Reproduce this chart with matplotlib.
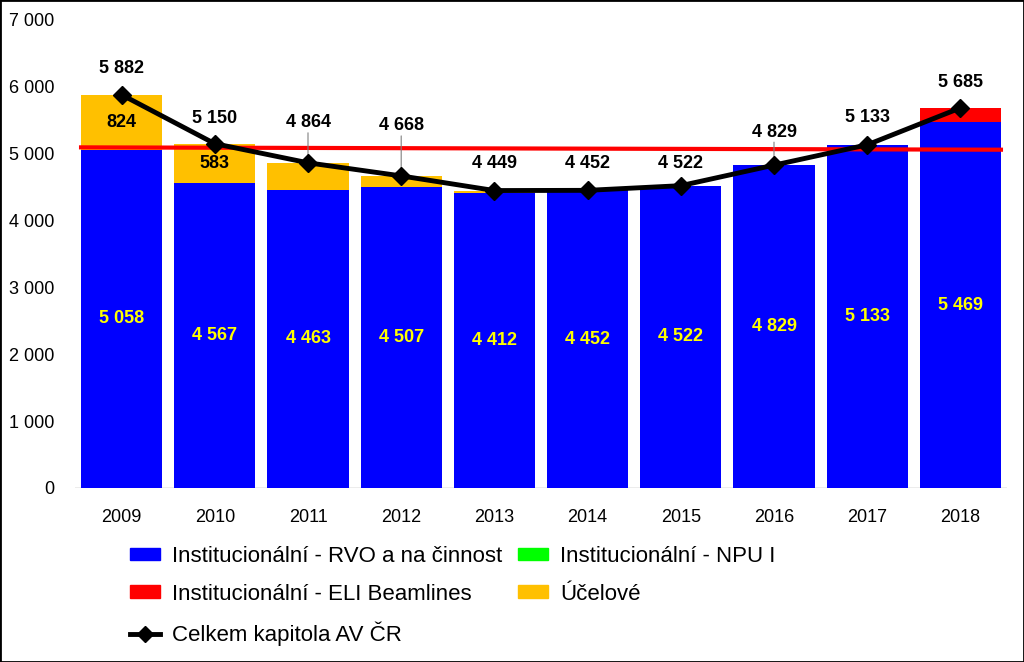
import numpy as np
import matplotlib.pyplot as plt
from matplotlib import font_manager
from matplotlib.patches import Rectangle
from matplotlib.lines import Line2D
from matplotlib.ticker import FuncFormatter

names = {f.name for f in font_manager.fontManager.ttflist}
if 'Liberation Sans Narrow' in names:
    plt.rcParams['font.family'] = ['Liberation Sans Narrow', 'DejaVu Sans']
else:
    plt.rcParams['font.family'] = ['Liberation Sans', 'DejaVu Sans']

years = ['2009', '2010', '2011', '2012', '2013', '2014', '2015', '2016', '2017', '2018']
rvo = [5058, 4567, 4463, 4507, 4412, 4452, 4522, 4829, 5133, 5469]
npu = [0, 0, 0, 0, 0, 0, 0, 0, 0, 0]
eli = [0, 0, 0, 0, 0, 0, 0, 0, 0, 216]
ucelove = [824, 583, 401, 161, 37, 0, 0, 0, 0, 0]
total = [5882, 5150, 4864, 4668, 4449, 4452, 4522, 4829, 5133, 5685]
ref_line = [5095, 5060]

# label centre offsets above the total line (pixels), leader line for some
total_offset = [26, 25, 40, 50, 27, 27, 22, 33, 27, 25]
leader = [False, False, True, True, False, False, False, True, False, False]

c_blue = '#0000FF'
c_green = '#00FF00'
c_red = '#FF0000'
c_yellow = '#FFC000'

fig = plt.figure(figsize=(10.24, 6.62), dpi=100)
ax = fig.add_axes([75 / 1024, 1 - 488 / 662, 932 / 1024, 468 / 662])

x = np.arange(len(years))
w = 0.87
bottom = np.zeros(len(years))
ax.bar(x, rvo, w, color=c_blue, zorder=2)
bottom += rvo
ax.bar(x, npu, w, bottom=bottom, color=c_green, zorder=2)
bottom += npu
ax.bar(x, eli, w, bottom=bottom, color=c_red, zorder=2)
bottom += eli
ax.bar(x, ucelove, w, bottom=bottom, color=c_yellow, zorder=2)

# values inside bars
for i in range(len(years)):
    ax.text(x[i], rvo[i] / 2, f'{rvo[i]:,}'.replace(',', ' '), ha='center', va='center',
            color='#FFFF00', fontsize=13, fontweight='bold', zorder=5)
    if ucelove[i] >= 500:
        base = rvo[i] + npu[i] + eli[i]
        ax.text(x[i], base + ucelove[i] / 2, f'{ucelove[i]}', ha='center', va='center',
                color='black', fontsize=13, fontweight='bold', zorder=5)

# red reference line
ax.plot([x[0] - w / 2, x[-1] + w / 2], ref_line, color=c_red, lw=3, zorder=3)

# total line
ax.plot(x, total, color='black', lw=3.5, marker='D', markersize=9, zorder=4)
for i in range(len(years)):
    ax.annotate(f'{total[i]:,}'.replace(',', ' '), (x[i], total[i]),
                xytext=(0, total_offset[i]), textcoords='offset pixels',
                ha='center', va='center', fontsize=13, fontweight='bold', zorder=6)
    if leader[i]:
        ax.annotate('', (x[i], total[i]), xytext=(0, total_offset[i] - 10),
                    textcoords='offset pixels',
                    arrowprops=dict(arrowstyle='-', color='#808080', lw=0.8, shrinkA=0, shrinkB=0))

ax.set_xlim(-0.5, 9.5)
ax.set_ylim(0, 7000)
ax.set_yticks(range(0, 7001, 1000))
ax.yaxis.set_major_formatter(FuncFormatter(lambda v, p: f'{int(v):,}'.replace(',', ' ')))
ax.set_xticks(x)
ax.set_xticklabels(years)
ax.tick_params(axis='both', length=0, labelsize=13)
ax.tick_params(axis='y', pad=15)
ax.tick_params(axis='x', pad=15)
for s in ax.spines.values():
    s.set_visible(False)
ax.axhline(0, color='#A0A0A0', lw=1, zorder=1)

handles = [
    Rectangle((0, 0), 1, 1, color=c_blue),
    Rectangle((0, 0), 1, 1, color=c_red),
    Line2D([], [], color='black', lw=3.5, marker='D', markersize=8),
    Rectangle((0, 0), 1, 1, color=c_green),
    Rectangle((0, 0), 1, 1, color=c_yellow),
]
labels = [
    'Institucionální - RVO a na činnost',
    'Institucionální - ELI Beamlines',
    'Celkem kapitola AV ČR',
    'Institucionální - NPU I',
    'Účelové',
]
fig.legend(handles, labels, ncol=2, loc='upper left', bbox_to_anchor=(110 / 1024, 1 - 526 / 662),
           frameon=False, fontsize=16, handlelength=1.35, handleheight=0.5,
           columnspacing=0.7, labelspacing=0.75, handletextpad=0.55)

fig.patches.append(Rectangle((0, 0), 1, 1, transform=fig.transFigure, fill=False,
                             edgecolor='black', lw=2))

fig.savefig('out.png', dpi=100)
